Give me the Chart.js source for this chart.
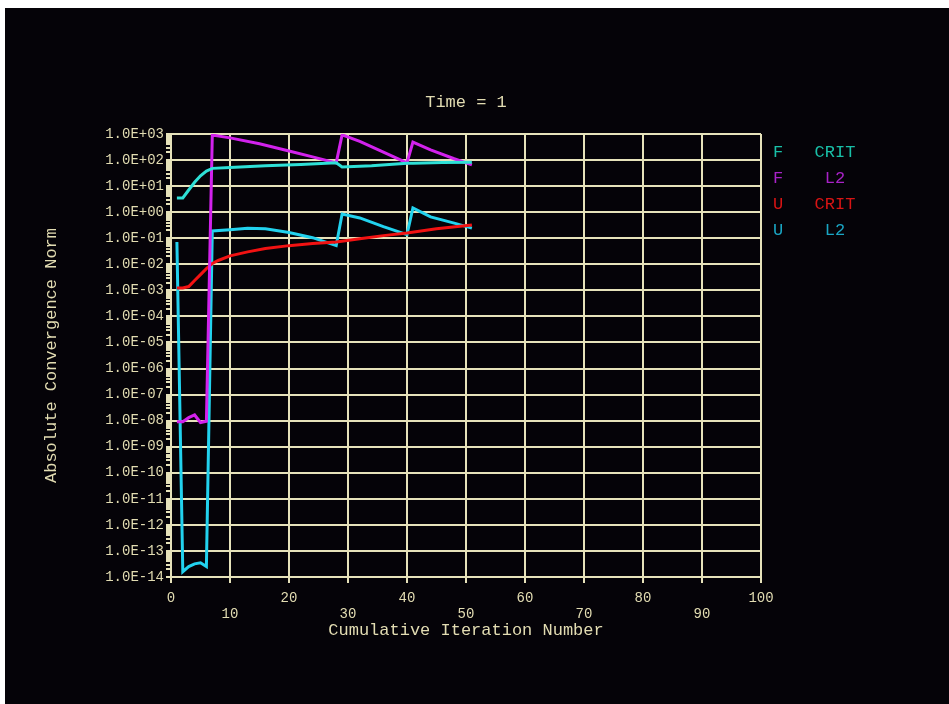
<!DOCTYPE html>
<html>
<head>
<meta charset="utf-8">
<script src="https://cdn.jsdelivr.net/npm/chart.js@4.4.1/dist/chart.umd.min.js"></script>
<style>
  html, body { margin: 0; padding: 0; background: #fff; }
  #chartConv { position: absolute; left: 0; top: 0; }
</style>
</head>
<body>
<canvas id="chartConv" width="949" height="704"></canvas>
<script>
"use strict";

// textos
var titleText = 'Time = 1';
var xTitle    = 'Cumulative Iteration Number';
var yTitle    = 'Absolute Convergence Norm';

// ticks
var xTickValues = [0, 10, 20, 30, 40, 50, 60, 70, 80, 90, 100];
var yTickLabels = ['1.0E+03', '1.0E+02', '1.0E+01', '1.0E+00', '1.0E-01', '1.0E-02',
                   '1.0E-03', '1.0E-04', '1.0E-05', '1.0E-06', '1.0E-07', '1.0E-08',
                   '1.0E-09', '1.0E-10', '1.0E-11', '1.0E-12', '1.0E-13', '1.0E-14'];

// leyenda
var seriesVar    = ['F', 'F', 'U', 'U'];
var seriesKind   = ['CRIT', 'L2', 'CRIT', 'L2'];
var lineColors   = ['#2ee0d6', '#d222ec', '#f21212', '#22d2ee'];
var legendColors = ['#19c0a8', '#a922c8', '#d81414', '#1aa6c4'];

// F CRIT
var fCritIter = [1, 2, 3, 4, 5, 6, 7, 10, 16, 22, 28, 29, 34, 40, 41, 46, 51];
var fCritVal  = [3.5, 3.5, 7.1, 14, 25, 38, 48, 52, 60, 68, 78, 54, 60, 76, 76, 80, 83];

// F L2
var fL2Iter = [1, 2, 3, 4, 5, 6, 7, 10, 15, 20, 24, 28, 29, 32, 36, 40, 41, 44, 48, 51];
var fL2Val  = [9.0e-9, 9.0e-9, 1.3e-8, 1.65e-8, 8.5e-9, 9.5e-9, 910, 710, 420, 224, 132, 78,
               930, 525, 200, 78, 490, 245, 112, 65];

// U CRIT
var uCritIter = [1, 2, 3, 4, 5, 6, 7, 8, 10, 13, 16, 20, 24, 28, 32, 36, 40, 45, 51];
var uCritVal  = [1.23e-3, 1.23e-3, 1.4e-3, 2.4e-3, 4.0e-3, 6.8e-3, 1.07e-2, 1.4e-2, 2.1e-2,
                 3.0e-2, 4.0e-2, 5.2e-2, 6.3e-2, 7.2e-2, 9.5e-2, 0.126, 0.158, 0.23, 0.32];

// U L2
var uL2Iter = [1, 2, 3, 4, 5, 6, 7, 10, 13, 16, 20, 24, 28, 29, 32, 36, 40, 41, 44, 48, 51];
var uL2Val  = [0.072, 1.6e-14, 2.5e-14, 3.2e-14, 3.5e-14, 2.5e-14, 0.19, 0.21, 0.24, 0.23,
               0.166, 0.105, 0.052, 0.85, 0.6, 0.28, 0.138, 1.45, 0.66, 0.38, 0.245];

var CREAM    = '#e6e2ba';
var TXT      = '#e2dcb2';
var MONO     = "'Liberation Mono', 'DejaVu Sans Mono', monospace";

function pares(xs, ys) {
  return xs.map(function (x, i) { return { x: x, y: ys[i] }; });
}

var seriesData = [
  pares(fCritIter, fCritVal),
  pares(fL2Iter, fL2Val),
  pares(uCritIter, uCritVal),
  pares(uL2Iter, uL2Val)
];

var fondo = {
  id: 'fondo',
  beforeDraw: function (chart) {
    var ctx = chart.ctx;
    ctx.save();
    ctx.fillStyle = '#ffffff';
    ctx.fillRect(0, 0, chart.width, chart.height);
    ctx.fillStyle = '#050308';
    ctx.fillRect(5, 8, chart.width - 5, chart.height - 8);
    ctx.restore();
  }
};

var textos = {
  id: 'textos',
  afterDraw: function (chart) {
    var ctx = chart.ctx, a = chart.chartArea;
    ctx.save();
    ctx.font = '17px ' + MONO;
    ctx.textBaseline = 'middle';
    ctx.textAlign = 'center';
    ctx.fillStyle = TXT;
    ctx.fillText(titleText, (a.left + a.right) / 2, a.top - 32);

    for (var i = 0; i < seriesVar.length; i++) {
      var y = a.top + 18 + i * 26;
      ctx.fillStyle = legendColors[i];
      ctx.fillText(seriesVar[i], a.right + 17, y);
      ctx.fillText(seriesKind[i], a.right + 74, y);
    }
    ctx.restore();
  }
};

new Chart(document.getElementById('chartConv'), {
  type: 'line',
  data: {
    datasets: seriesData.map(function (d, i) {
      return {
        label: seriesVar[i] + ' ' + seriesKind[i],
        data: d,
        borderColor: lineColors[i],
        backgroundColor: lineColors[i],
        borderWidth: 3,
        pointRadius: 0,
        tension: 0,
        fill: false
      };
    })
  },
  options: {
    responsive: false,
    devicePixelRatio: 1,
    animation: false,
    layout: { padding: { top: 134, right: 188, left: 0, bottom: 0 } },
    plugins: {
      legend: { display: false },
      tooltip: { enabled: false },
      title: { display: false }
    },
    scales: {
      x: {
        type: 'linear',
        min: 0,
        max: 100,
        afterFit: function (s) { s.height = 127; },
        afterBuildTicks: function (s) {
          s.ticks = xTickValues.map(function (v) { return { value: v }; });
        },
        ticks: {
          color: TXT,
          padding: 7,
          autoSkip: false,
          maxRotation: 0,
          font: { family: MONO, size: 14, lineHeight: 16 / 14 },
          callback: function (v) {
            return (v / 10) % 2 === 1 ? ['', String(v)] : String(v);
          }
        },
        grid: { color: CREAM, lineWidth: 2, tickLength: 6, tickColor: CREAM },
        border: { color: CREAM, width: 2 },
        title: {
          display: true,
          text: xTitle,
          color: TXT,
          font: { family: MONO, size: 17, lineHeight: 1.2 },
          padding: { top: 0, bottom: 63 }
        }
      },
      y: {
        type: 'logarithmic',
        min: parseFloat(yTickLabels[yTickLabels.length - 1]),
        max: parseFloat(yTickLabels[0]),
        afterFit: function (s) { s.width = 171; },
        afterBuildTicks: function (s) {
          var t = [];
          var top = parseFloat(yTickLabels[0]);
          yTickLabels.forEach(function (lab) {
            var v = parseFloat(lab);
            t.push({ value: v, major: true, text: lab });
            if (v < top) {
              for (var m = 2; m <= 9; m++) t.push({ value: v * m, major: false, text: '' });
            }
          });
          s.ticks = t;
        },
        ticks: {
          color: TXT,
          padding: 2,
          autoSkip: false,
          font: { family: MONO, size: 14 },
          callback: function (v, i, t) { return t[i].text; }
        },
        grid: {
          color: function (c) { return c.tick && c.tick.major ? CREAM : 'rgba(0,0,0,0)'; },
          lineWidth: 2,
          tickLength: 5,
          tickColor: CREAM,
          tickWidth: 2
        },
        border: { color: CREAM, width: 2 },
        title: {
          display: true,
          text: yTitle,
          color: TXT,
          font: { family: MONO, size: 17, lineHeight: 1.2 },
          padding: { top: 41, bottom: 0 }
        }
      }
    }
  },
  plugins: [fondo, textos]
});
</script>
</body>
</html>
